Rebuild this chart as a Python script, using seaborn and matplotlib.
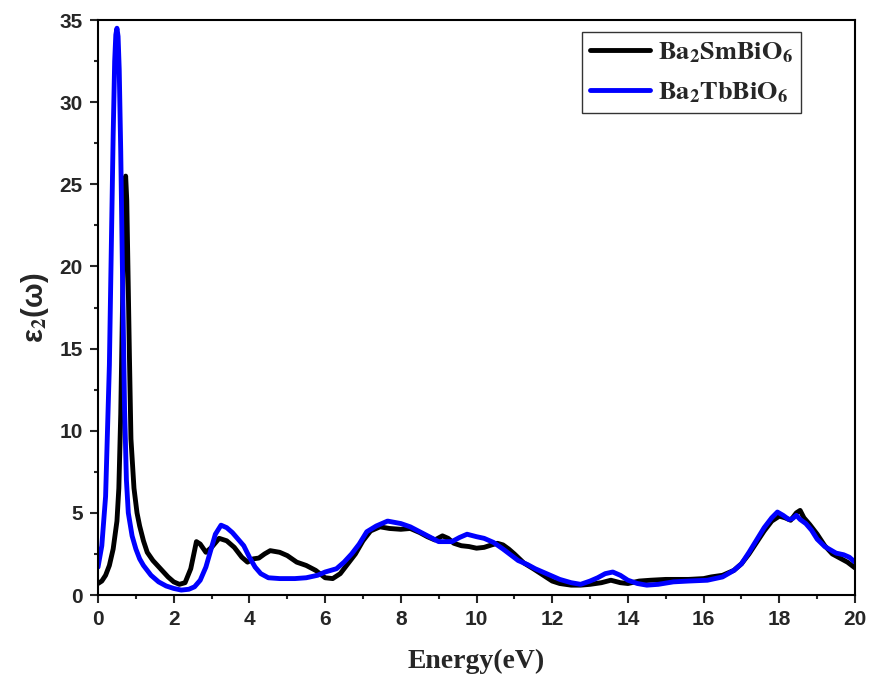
import numpy as np
import pandas as pd
import matplotlib
matplotlib.use("Agg")
import matplotlib.pyplot as plt
import seaborn as sns

# Imaginary part of the dielectric function, read per compound
energy_sm = [0, 0.1, 0.2, 0.3, 0.4, 0.5, 0.55, 0.6, 0.65, 0.7, 0.73, 0.76, 0.79, 0.83,
             0.87, 0.95, 1.03, 1.1, 1.2, 1.3, 1.45, 1.65, 1.85, 2.0, 2.15, 2.3, 2.45, 2.6,
             2.7, 2.85, 3.0, 3.2, 3.4, 3.6, 3.8, 3.95, 4.1, 4.25, 4.4, 4.55, 4.8, 5.0,
             5.25, 5.5, 5.75, 6.0, 6.2, 6.4, 6.6, 6.8, 7.0, 7.2, 7.45, 7.7, 8.0, 8.25,
             8.5, 8.7, 8.9, 9.1, 9.25, 9.4, 9.6, 9.8, 10.0, 10.2, 10.4, 10.55, 10.7,
             10.85, 11.0, 11.25, 11.5, 11.7, 12.0, 12.2, 12.5, 12.75, 13.0, 13.3,
             13.55, 13.8, 14.0, 14.3, 14.6, 15.0, 15.3, 15.6, 16.0, 16.2, 16.5, 16.8,
             17.0, 17.2, 17.4, 17.6, 17.8, 18.0, 18.15, 18.3, 18.45, 18.55, 18.65,
             18.8, 19.0, 19.2, 19.4, 19.6, 19.8, 20.0]
eps2_sm = [0.7, 0.85, 1.2, 1.8, 2.8, 4.5, 6.5, 11, 18, 24.5, 25.5, 24, 20, 14.5,
           9.5, 6.5, 5.0, 4.2, 3.3, 2.6, 2.1, 1.6, 1.1, 0.8, 0.65, 0.75, 1.6, 3.25,
           3.1, 2.6, 2.9, 3.45, 3.3, 2.9, 2.3, 2.0, 2.2, 2.25, 2.5, 2.7, 2.6, 2.4,
           2.0, 1.8, 1.5, 1.05, 1.0, 1.3, 1.9, 2.5, 3.3, 3.9, 4.15, 4.05, 4.0, 4.05,
           3.8, 3.55, 3.35, 3.6, 3.45, 3.15, 3.0, 2.95, 2.85, 2.9, 3.05, 3.15, 3.05,
           2.8, 2.5, 1.95, 1.6, 1.3, 0.85, 0.7, 0.6, 0.6, 0.65, 0.75,
           0.9, 0.75, 0.7, 0.85, 0.9, 0.95, 0.95, 0.95, 1.0, 1.1, 1.2, 1.5,
           1.9, 2.5, 3.2, 3.9, 4.5, 4.8, 4.7, 4.55, 5.0, 5.15, 4.7,
           4.3, 3.7, 3.0, 2.5, 2.25, 2.0, 1.65]

energy_tb = [0, 0.1, 0.2, 0.3, 0.35, 0.4, 0.44, 0.47, 0.5, 0.53, 0.56, 0.6, 0.65, 0.7,
             0.75, 0.8, 0.9, 1.0, 1.1, 1.2, 1.4, 1.6, 1.8, 2.0, 2.2, 2.4, 2.55, 2.7,
             2.85, 3.0, 3.1, 3.25, 3.4, 3.55, 3.7, 3.85, 4.0, 4.15, 4.3, 4.5, 4.8, 5.2,
             5.5, 5.8, 6.0, 6.3, 6.5, 6.7, 6.9, 7.1, 7.35, 7.65, 8.0, 8.25, 8.5, 8.75,
             9.0, 9.35, 9.55, 9.75, 10.0, 10.2, 10.45, 10.7, 10.9, 11.1, 11.35, 11.55,
             11.75, 12.0, 12.2, 12.5, 12.75, 13.0, 13.2, 13.4, 13.6, 13.8, 14.0,
             14.25, 14.5, 14.8, 15.2, 15.6, 16.1, 16.5, 16.8, 17.0, 17.2, 17.4, 17.6,
             17.8, 17.95, 18.1, 18.25, 18.35, 18.45, 18.55, 18.7, 18.85, 19.0, 19.2,
             19.35, 19.5, 19.7, 19.85, 20.0]
eps2_tb = [1.7, 3.0, 6, 14, 21, 28, 32.5, 34.1, 34.5, 34.0, 32.0, 27, 19, 11.5,
           7, 5, 3.6, 2.8, 2.2, 1.8, 1.2, 0.8, 0.55, 0.4, 0.3, 0.35, 0.5, 0.9,
           1.7, 2.9, 3.7, 4.25, 4.1, 3.8, 3.4, 3.0, 2.3, 1.7, 1.3, 1.05, 1.0, 1.0,
           1.05, 1.2, 1.4, 1.6, 2.0, 2.5, 3.1, 3.85, 4.2, 4.5, 4.35, 4.15, 3.85, 3.55,
           3.25, 3.25, 3.5, 3.7, 3.55, 3.45, 3.2, 2.8, 2.45, 2.1, 1.85, 1.6,
           1.4, 1.15, 0.95, 0.75, 0.65, 0.85, 1.05, 1.3, 1.4, 1.2, 0.9,
           0.7, 0.6, 0.65, 0.8, 0.85, 0.9, 1.1, 1.5, 1.9, 2.6, 3.35, 4.1,
           4.7, 5.05, 4.85, 4.6, 4.65, 4.85, 4.6, 4.35, 3.95, 3.4, 2.95,
           2.75, 2.55, 2.45, 2.3, 2.0]

labels = [r"$\mathbf{Ba_2SmBiO_6}$", r"$\mathbf{Ba_2TbBiO_6}$"]
colors = ["#000000", "#0000FF"]

x_ticks = [0, 2, 4, 6, 8, 10, 12, 14, 16, 18, 20]
y_ticks = [0, 5, 10, 15, 20, 25, 30, 35]

sns.set_theme(style="white")
plt.rcParams["font.family"] = ["Liberation Sans", "DejaVu Sans"]
plt.rcParams["mathtext.fontset"] = "stix"

fig = plt.figure(figsize=(8.69, 6.78), dpi=100)
ax = fig.add_axes([0.1128, 0.1224, 0.8711, 0.8481])

df = pd.concat([
    pd.DataFrame({"Energy": energy_sm, "eps2": eps2_sm, "compound": labels[0]}),
    pd.DataFrame({"Energy": energy_tb, "eps2": eps2_tb, "compound": labels[1]}),
])

for lab, col in zip(labels, colors):
    sub = df[df["compound"] == lab]
    sns.lineplot(data=sub, x="Energy", y="eps2", color=col, lw=3.5,
                 label=lab, ax=ax, sort=False, estimator=None)

ax.set_xlim(0, 20)
ax.set_ylim(0, 35)
ax.set_xticks(x_ticks)
ax.set_yticks(y_ticks)
ax.set_xticks(np.arange(1, 20, 2), minor=True)
ax.set_yticks(np.arange(2.5, 35, 5), minor=True)
ax.tick_params(which="major", direction="out", length=6, width=1.5, pad=5,
               labelsize=15, bottom=True, left=True, top=False, right=False)
ax.tick_params(which="minor", direction="out", length=3, width=1.5,
               bottom=True, left=True, top=False, right=False)
for t in ax.get_xticklabels() + ax.get_yticklabels():
    t.set_fontweight("bold")

for sp in ax.spines.values():
    sp.set_color("black")
    sp.set_linewidth(1.5)

ax.set_xlabel("Energy(eV)", fontsize=20, fontweight="bold",
              family=["Liberation Serif", "DejaVu Serif"], labelpad=14)
ax.set_ylabel(r"ε$_\mathbf{2}$(ω)", fontsize=21, fontweight="bold", labelpad=6)

leg = ax.legend(loc="upper right", bbox_to_anchor=(0.9287, 0.979),
                borderaxespad=0, fontsize=19, handlelength=2.3,
                fancybox=False, frameon=True, edgecolor="black",
                borderpad=0.3, labelspacing=0.6, handletextpad=0.3)
leg.get_frame().set_linewidth(1.0)

fig.savefig("out.png", dpi=100)
